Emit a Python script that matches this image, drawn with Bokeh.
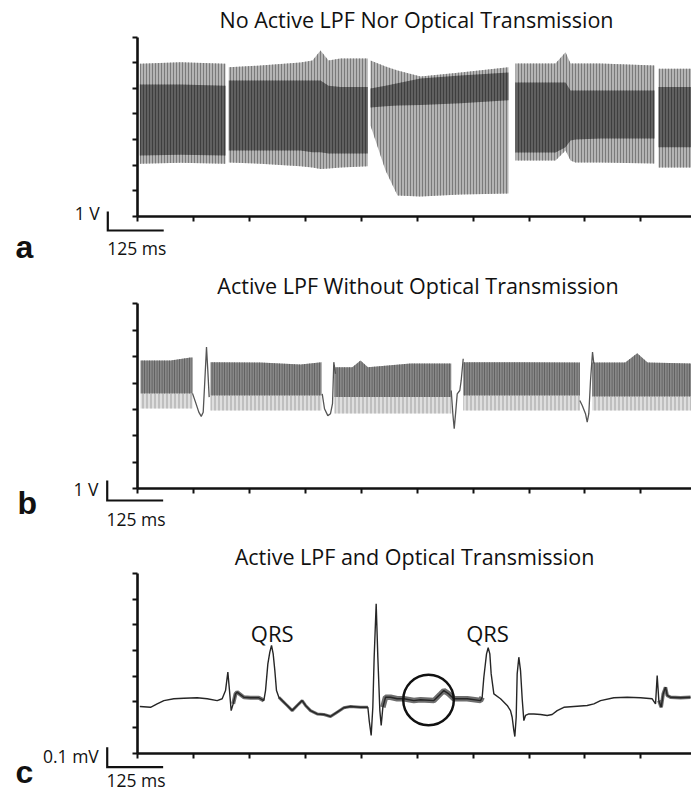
import numpy as np
from bokeh.plotting import figure
from bokeh.models import LinearAxis, FixedTicker, Label
from bokeh.layouts import column
from bokeh.embed import file_html
from bokeh.resources import INLINE

# ---------------- data ----------------
X_TICKS = [0, 125, 250, 375, 500, 625, 750, 875, 1000, 1125]   # ms
Y_TICKS = [0, 1, 2, 3, 4, 5, 6, 7]                              # divisions

TITLES = ["No Active LPF Nor Optical Transmission",
          "Active LPF Without Optical Transmission",
          "Active LPF and Optical Transmission"]
PANEL_LETTERS = ["a", "b", "c"]
V_SCALE_LABELS = ["1 V", "1 V", "0.1 mV"]
T_SCALE_LABEL = "125 ms"
T_SCALE_MS = 125
V_SCALE_DIV = [0.743, 0.757, 0.779]     # vertical scale bar length in divisions
QRS_LABEL = "QRS"
QRS_T = [301.0, 782.2]
QRS_V = [4.363, 4.363]
CIRCLE_T = [650.4]
CIRCLE_V = [2.07]

# panel a : envelope of the unfiltered oscillation (segment id, time ms, outer top/bottom, dark band top/bottom)
A_SEG  = [1, 1, 1,
          2, 2, 2, 2, 2, 2, 2, 2,
          3, 3, 3, 3, 3, 3,
          4, 4, 4, 4, 4, 4, 4,
          5, 5]
A_T    = [5.1, 96.1, 196.7,
          204.0, 274.9, 364.3, 391.1, 409.0, 426.9, 453.7, 514.7,
          520.7, 554.3, 581.1, 632.5, 721.9, 829.1,
          844.8, 934.2, 956.6, 967.7, 978.9, 1034.8, 1155.4,
          1164.4, 1240.0]
A_TOP  = [5.96, 6.02, 5.96,
          5.83, 5.89, 6.01, 6.09, 6.48, 6.09, 6.17, 6.17,
          6.09, 5.85, 5.70, 5.46, 5.62, 5.83,
          5.97, 5.97, 6.41, 5.97, 5.97, 5.97, 5.89,
          5.77, 5.77]
A_BOT  = [2.05, 2.09, 2.05,
          2.10, 2.05, 1.95, 1.90, 1.85, 1.87, 1.90, 1.95,
          3.55, 1.79, 0.81, 0.77, 0.85, 0.89,
          2.18, 2.18, 2.57, 2.18, 2.10, 2.10, 2.06,
          1.90, 1.90]
A_DTOP = [5.15, 5.15, 5.10,
          5.31, 5.31, 5.31, 5.31, 5.31, 5.10, 5.05, 5.05,
          4.99, 5.10, 5.20, 5.39, 5.50, 5.62,
          5.23, 5.23, 5.23, 4.92, 4.92, 4.92, 4.92,
          5.05, 5.05]
A_DBOT = [2.37, 2.40, 2.37,
          2.57, 2.57, 2.57, 2.50, 2.50, 2.45, 2.45, 2.45,
          4.25, 4.30, 4.33, 4.35, 4.42, 4.53,
          2.49, 2.49, 2.70, 2.96, 3.00, 3.04, 3.04,
          2.70, 2.70]

# panel b : filtered signal band and the transient dips
B_SEG  = [1, 1, 1, 1,
          2, 2, 2, 2,
          3, 3, 3, 3, 3, 3,
          4, 4, 4,
          5, 5, 5, 5, 5]
B_T    = [6.7, 73.8, 118.4, 122.9,
          163.1, 274.9, 364.3, 411.2,
          440.3, 480.0, 498.4, 515.0, 610.1, 701.1,
          727.9, 856.0, 988.5,
          1016.2, 1090.0, 1116.8, 1140.0, 1240.0]
B_TOP  = [4.85, 4.85, 4.97, 4.97,
          4.79, 4.78, 4.70, 4.79,
          4.60, 4.60, 4.85, 4.60, 4.74, 4.74,
          4.79, 4.79, 4.78,
          4.78, 4.78, 5.13, 4.78, 4.74]
B_DARK = [3.61, 3.61, 3.61, 3.61,
          3.53, 3.53, 3.53, 3.53,
          3.47, 3.47, 3.47, 3.47, 3.47, 3.47,
          3.53, 3.53, 3.53,
          3.49, 3.49, 3.49, 3.49, 3.49]
B_LOW  = [3.04, 3.04, 3.04, 3.04,
          2.96, 2.96, 2.96, 2.96,
          2.85, 2.85, 2.85, 2.85, 2.85, 2.85,
          2.96, 2.96, 2.96,
          2.96, 2.96, 2.96, 2.96, 2.96]
nan = float("nan")
B_DIP_T = [122.9, 129.6, 137.0, 142.4, 146.8, 149.7, 154.2, 157.1, 160.2, nan,
           412.8, 417.9, 425.3, 431.3, 435.8, 438.7, 442.5, nan,
           701.1, 704.7, 707.8, 711.4, 714.5, 720.3, 723.4, 727.9, nan,
           988.5, 993.9, 1001.2, 1005.0, 1008.6, 1012.4, 1016.9, 1019.8]
B_DIP_V = [3.61, 3.28, 2.90, 2.74, 2.90, 3.84, 5.36, 4.48, 3.47, nan,
           3.59, 3.03, 2.77, 2.84, 3.22, 4.79, 4.35, nan,
           3.72, 2.84, 2.27, 2.96, 3.59, 3.72, 4.10, 4.92, nan,
           3.34, 3.15, 2.84, 2.52, 2.84, 4.10, 5.17, 4.74]

# panel c : ECG trace
C_T = [5.2, 29.1, 43.9, 58.9, 81.2, 103.6, 133.3, 155.7, 178.0, 189.2, 196.7, 201.9, 205.6,
       209.3, 213.8, 219.0, 222.7, 237.6, 252.5, 271.2, 282.3, 286.1, 291.3, 295.7, 299.5,
       303.2, 306.9, 310.6, 315.9, 323.3, 334.5, 345.7, 356.8, 368.0, 375.5, 386.6, 401.5,
       416.4, 431.3, 446.2, 461.1, 476.0, 498.4, 514.8, 517.8, 522.2, 525.9, 528.9, 533.4,
       537.1, 541.6, 544.6, 548.3, 554.3, 565.4, 580.3, 595.2, 617.6, 632.5, 662.3, 677.2,
       684.6, 695.8, 707.0, 736.8, 766.6, 770.3, 774.0, 780.0, 783.7, 787.4, 790.4, 796.4,
       811.3, 826.2, 833.6, 837.3, 841.1, 843.3, 846.3, 848.5, 852.2, 856.0, 859.7, 863.4,
       867.1, 874.6, 885.8, 900.7, 915.6, 926.7, 937.9, 952.8, 975.2, 1005.0, 1019.9, 1034.8,
       1064.6, 1094.4, 1124.2, 1150.2, 1157.7, 1161.4, 1165.1, 1170.4, 1174.8, 1180.0, 1183.8,
       1191.2, 1213.6, 1235.9]
C_V = [1.82, 1.79, 1.92, 2.05, 2.12, 2.14, 2.16, 2.12, 2.05, 2.12, 2.44, 3.16, 2.44,
       1.66, 1.92, 2.31, 2.38, 2.18, 2.16, 2.16, 2.05, 2.44, 3.48, 3.94, 4.20,
       3.87, 3.22, 2.44, 2.18, 2.05, 1.86, 1.66, 1.86, 2.05, 1.86, 1.66, 1.53,
       1.51, 1.43, 1.60, 1.77, 1.82, 1.79, 1.79, 1.27, 0.69, 1.79, 3.74, 5.82,
       3.74, 1.66, 1.08, 1.79, 2.18, 2.18, 2.12, 2.12, 2.05, 2.08, 2.05, 2.31,
       2.44, 2.31, 2.12, 2.12, 2.05, 2.18, 2.96, 3.87, 4.11, 3.87, 3.09, 2.31,
       2.12, 1.86, 1.66, 1.40, 0.88, 0.65, 1.40, 3.09, 3.74, 3.22, 2.12, 1.27,
       1.47, 1.53, 1.53, 1.51, 1.47, 1.51, 1.66, 1.79, 1.82, 1.86, 1.92, 2.05,
       2.16, 2.18, 2.16, 2.12, 1.92, 3.03, 2.05, 1.79, 2.31, 2.57, 2.25,
       2.18, 2.16, 2.18]
C_NOISE_RANGES = [(213, 286), (315, 516), (548, 772), (1165, 1240)]
C_NOISE_WIDTHS = [4, 3, 5.5, 3.5]

# ---------------- layout helpers ----------------
X_RANGE = (-306.2, 1238.1)
W = 691
TXT_FONT = "Open Sans"
INK = "#111111"
TITLE_SIZE = 21.5
SMALL_SIZE = 17.5
QRS_SIZE = 22
LETTER_SIZE = 32
TITLE_T = [623.5, 626.9, 619.1]


def make_fig(h, y0, y1):
    p = figure(width=W, height=h, x_range=X_RANGE, y_range=(y0, y1),
               toolbar_location=None, output_backend="svg", title=None,
               x_axis_type=None, y_axis_type=None, min_border=0,
               outline_line_color=None, background_fill_color="white",
               border_fill_color="white")
    common = dict(axis_line_color=INK, axis_line_width=2.6,
                  major_tick_line_color=INK, major_tick_line_width=2,
                  major_tick_out=5, major_tick_in=0,
                  minor_tick_line_color=None, major_label_text_color=None,
                  axis_label=None)
    yax = LinearAxis(fixed_location=0, bounds=(0, 7),
                     ticker=FixedTicker(ticks=Y_TICKS), **common)
    p.add_layout(yax, "left")
    xax = LinearAxis(fixed_location=0, bounds=(-0.6, 1400),
                     ticker=FixedTicker(ticks=X_TICKS), **common)
    p.add_layout(xax, "below")
    return p


def text(p, ppd, x, v_base, s, size, align="left", font=TXT_FONT, style="normal"):
    # anchor compensates for where the renderer puts the alphabetic baseline
    y = v_base + 0.39 * size / ppd
    p.add_layout(Label(x=x, y=y, text=s, text_font=font, text_font_style=style,
                       text_font_size=f"{size}px", text_color=INK, text_align=align,
                       text_baseline="alphabetic"))


def add_decor(p, i, ppd, title_v, vlab_t, vlab_v, bar_t, bar_top, t_lab_v, letter_t, letter_v):
    text(p, ppd, TITLE_T[i], title_v, TITLES[i], TITLE_SIZE, align="center")
    bar_bot = bar_top - V_SCALE_DIV[i]
    p.line(x=[bar_t, bar_t, bar_t + T_SCALE_MS], y=[bar_top, bar_bot, bar_bot],
           line_color=INK, line_width=2.2, line_join="miter")
    text(p, ppd, vlab_t, vlab_v, V_SCALE_LABELS[i], SMALL_SIZE, align="right")
    text(p, ppd, bar_t - 1.5, t_lab_v, T_SCALE_LABEL, SMALL_SIZE, align="left")
    text(p, ppd, letter_t, letter_v, PANEL_LETTERS[i], LETTER_SIZE, align="left",
         font="Liberation Sans", style="bold")


def segments(seg, *cols):
    seg = np.asarray(seg)
    out = []
    for s in np.unique(seg):
        m = seg == s
        out.append([np.asarray(c)[m] for c in cols])
    return out


# ---------------- panel a ----------------
PPD_A = 25.57
pa = make_fig(266, -1.967, 8.436)
for t, top, bot, dtop, dbot in segments(A_SEG, A_T, A_TOP, A_BOT, A_DTOP, A_DBOT):
    pa.varea(x=t, y1=bot, y2=top, fill_color="#b4b4b4",
             hatch_pattern="|", hatch_color="#7a7a7a", hatch_scale=3, hatch_weight=1)
    pa.varea(x=t, y1=dbot, y2=dtop, fill_color="#606060",
             hatch_pattern="|", hatch_color="#3e3e3e", hatch_scale=3, hatch_weight=1)
add_decor(pa, 0, PPD_A, 7.368, -84.3, -0.129, -66.4, 0.184, -1.517, -272.7, -1.674)

# ---------------- panel b ----------------
PPD_B = 26.43
pb = make_fig(266, -1.653, 8.411)
for t, top, dark, low in segments(B_SEG, B_T, B_TOP, B_DARK, B_LOW):
    pb.varea(x=t, y1=low, y2=dark, fill_color="#dedede",
             hatch_pattern="|", hatch_color="#a0a0a0", hatch_scale=4, hatch_weight=1)
    pb.varea(x=t, y1=dark, y2=top, fill_color="#888888",
             hatch_pattern="|", hatch_color="#5a5a5a", hatch_scale=2.5, hatch_weight=1)
pb.line(x=B_DIP_T, y=B_DIP_V, line_color="#555555", line_width=1.3)
add_decor(pb, 1, PPD_B, 7.378, -87.2, -0.253, -67.7, 0.314, -1.407, -268.2, -1.010)

# ---------------- panel c ----------------
PPD_C = 25.67
pc = make_fig(259, -1.492, 8.598)
ct = np.asarray(C_T)
cv = np.asarray(C_V)
for (lo, hi), w in zip(C_NOISE_RANGES, C_NOISE_WIDTHS):
    m = (ct >= lo) & (ct <= hi)
    pc.line(x=ct[m], y=cv[m], line_color="#6e6e6e", line_width=w)
pc.line(x=C_T, y=C_V, line_color="#262626", line_width=1.4)
pc.scatter(x=CIRCLE_T, y=CIRCLE_V, marker="circle", size=50.6, fill_color=None,
           line_color=INK, line_width=2.5)
for qt, qv in zip(QRS_T, QRS_V):
    text(pc, PPD_C, qt, qv, QRS_LABEL, QRS_SIZE, align="center")
add_decor(pc, 2, PPD_C, 7.339, -86.5, -0.362, -67.7, 0.234, -1.297, -272.7, -1.200)

layout = column(pa, pb, pc, spacing=0)
open("out.html", "w").write(file_html(layout, INLINE))
